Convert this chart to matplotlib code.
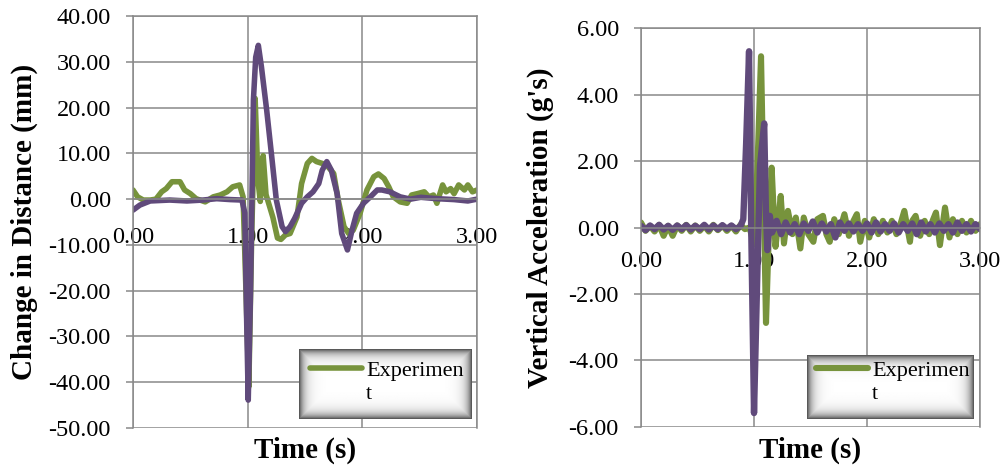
import numpy as np
import matplotlib.pyplot as plt
from matplotlib.ticker import MultipleLocator, FormatStrFormatter
from matplotlib.lines import Line2D

plt.rcParams['font.family'] = ['Liberation Serif', 'DejaVu Serif']

green = '#77933C'
purple = '#604A7B'
grid_c = '#898989'

# left panel: change in distance (mm)
dist_exp_t = [0.00, 0.04, 0.09, 0.15, 0.20, 0.25, 0.29, 0.34, 0.38, 0.41, 0.45, 0.50, 0.55, 0.63,
              0.70, 0.76, 0.82, 0.87, 0.93, 0.96, 0.985, 1.01, 1.035, 1.065, 1.09, 1.11, 1.135, 1.16,
              1.19, 1.22, 1.26, 1.29, 1.33, 1.37, 1.43, 1.47, 1.52, 1.56, 1.60, 1.65, 1.69, 1.75,
              1.79, 1.84, 1.88, 1.92, 1.98, 2.04, 2.10, 2.14, 2.19, 2.23, 2.27, 2.33, 2.39, 2.43,
              2.48, 2.54, 2.58, 2.62, 2.65, 2.70, 2.73, 2.77, 2.80, 2.84, 2.89, 2.92, 2.96, 3.00]
dist_exp_v = [2.0, 0.5, -0.2, -0.2, 0.0, 1.6, 2.3, 3.8, 3.8, 3.8, 2.0, 1.2, 0.1, -0.6,
              0.5, 0.9, 1.6, 2.7, 3.1, 0.5, -20, -41, -8, 22, 4, -0.5, 9.5, 1.0,
              -1.5, -4, -8.5, -8.8, -7.8, -7.5, -3.9, 3.4, 7.8, 8.9, 8.2, 7.8, 7.4, 5.6,
              -0.2, -6.0, -7.5, -6.8, -3.1, 2.0, 4.9, 5.5, 4.5, 2.7, 0.5, -0.6, -0.9, 0.9,
              1.2, 1.6, 0.5, 0.9, -0.9, 3.1, 1.6, 2.3, 1.2, 3.1, 2.0, 3.1, 1.6, 2.0]

dist_sim_t = [0.00, 0.06, 0.15, 0.32, 0.47, 0.61, 0.73, 0.85, 0.95, 0.975, 0.99, 1.005, 1.025,
              1.05, 1.07, 1.093, 1.12, 1.166, 1.21, 1.25, 1.30, 1.33, 1.37, 1.41, 1.47, 1.52,
              1.57, 1.62, 1.65, 1.69, 1.73, 1.78, 1.82, 1.87, 1.91, 1.95, 2.01, 2.07, 2.13,
              2.17, 2.24, 2.33, 2.42, 2.51, 2.65, 2.80, 2.92, 3.00]
dist_sim_v = [-2.4, -1.3, -0.4, -0.2, -0.4, -0.2, 0.1, -0.1, -0.2, -3, -25, -43.9, -20,
              21.6, 31, 33.6, 28.9, 19.4, 9.2, -0.2, -6.0, -7.1, -6.0, -4.2, -0.9, 0.5,
              1.6, 3.4, 6.3, 8.2, 6.3, 1.2, -7.5, -11.1, -6.8, -3.1, -0.9, 0.5, 2.0,
              2.0, 1.6, 0.5, 0.0, 0.4, 0.1, -0.1, -0.4, 0.0]

# right panel: vertical acceleration (g's)
acc_exp_t = [0.00, 0.04, 0.08, 0.12, 0.16, 0.20, 0.24, 0.28, 0.32, 0.36, 0.40, 0.44, 0.48, 0.52,
             0.56, 0.60, 0.64, 0.68, 0.72, 0.76, 0.80, 0.84, 0.88, 0.92, 0.96, 1.00, 1.03, 1.062,
             1.085, 1.106, 1.13, 1.156, 1.175, 1.19, 1.215, 1.236, 1.265, 1.30, 1.34, 1.37, 1.41,
             1.44, 1.48, 1.525, 1.56, 1.61, 1.64, 1.67, 1.71, 1.75, 1.80, 1.84, 1.88, 1.91, 1.94,
             1.98, 2.02, 2.06, 2.10, 2.14, 2.18, 2.22, 2.26, 2.30, 2.33, 2.38, 2.40, 2.43, 2.47,
             2.51, 2.55, 2.58, 2.61, 2.645, 2.69, 2.73, 2.76, 2.80, 2.84, 2.88, 2.92, 2.96, 3.00]
acc_exp_v = [0.15, -0.1, 0.05, -0.12, 0.08, -0.25, 0.05, -0.25, 0.06, -0.1, 0.08, -0.12, 0.06, -0.1,
             0.05, -0.12, 0.08, -0.08, 0.06, -0.1, 0.05, -0.12, 0.08, -0.05, 0.0, -0.5, 1.8, 5.15,
             1.0, -2.87, -0.3, 1.8, 0.4, -0.58, 0.2, 0.95, -0.48, 0.5, -0.2, 0.3, -0.63,
             0.3, -0.2, -0.43, 0.25, 0.35, -0.2, -0.43, 0.25, -0.2, 0.4, -0.25, 0.2, 0.4, -0.43,
             0.2, -0.3, 0.25, -0.2, 0.2, -0.15, 0.2, -0.2, 0.15, 0.5, -0.43, 0.2, 0.35, -0.25,
             0.2, -0.2, 0.2, 0.45, -0.53, 0.6, -0.3, 0.25, -0.2, 0.2, -0.15, 0.2, -0.1, 0.1]

acc_sim_t = [0.00, 0.04, 0.08, 0.12, 0.16, 0.20, 0.24, 0.28, 0.32, 0.36, 0.40, 0.44, 0.48, 0.52,
             0.56, 0.60, 0.64, 0.68, 0.72, 0.76, 0.80, 0.84, 0.88, 0.905, 0.93, 0.956, 0.975, 1.00,
             1.025, 1.053, 1.09, 1.105, 1.118, 1.14, 1.16, 1.20, 1.24, 1.28, 1.32, 1.36, 1.40,
             1.44, 1.48, 1.52, 1.56, 1.60, 1.64, 1.68, 1.72, 1.76, 1.80, 1.84, 1.88, 1.92, 1.96,
             2.00, 2.04, 2.08, 2.12, 2.16, 2.20, 2.24, 2.28, 2.32, 2.36, 2.40, 2.44, 2.48, 2.52,
             2.56, 2.60, 2.64, 2.68, 2.72, 2.76, 2.80, 2.84, 2.88, 2.92, 2.96, 3.00]
acc_sim_v = [0.05, -0.08, 0.06, -0.05, 0.08, -0.06, 0.05, -0.07, 0.06, -0.05, 0.07, -0.06, 0.05, -0.05,
             0.08, -0.06, 0.06, -0.05, 0.07, -0.04, 0.06, -0.05, 0.04, 0.25, 2.5, 5.3, 0.0, -5.58,
             -2.0, 1.85, 3.13, 0.5, -0.68, 0.35, -0.15, 0.2, -0.2, 0.15, -0.15, 0.1, -0.2,
             0.12, -0.1, 0.18, -0.15, 0.12, -0.12, 0.1, -0.3, 0.15, -0.1, 0.12, -0.12, 0.1, -0.1,
             0.12, -0.15, 0.15, -0.12, 0.1, -0.1, 0.12, -0.15, 0.1, -0.1, 0.12, -0.2, 0.15, -0.12,
             0.1, -0.15, 0.12, -0.1, 0.1, -0.15, 0.15, -0.1, 0.1, -0.12, 0.1, -0.05]

fig = plt.figure(figsize=(10.03, 4.66), dpi=100)
ax1 = fig.add_axes([0.1326, 0.0815, 0.343, 0.8841])
ax2 = fig.add_axes([0.6391, 0.0837, 0.338, 0.8562])


def style(ax, ylim, ystep, ylabel, xpad, ylab_x):
    ax.set_xlim(0, 3)
    ax.set_ylim(*ylim)
    ax.xaxis.set_major_locator(MultipleLocator(1))
    ax.yaxis.set_major_locator(MultipleLocator(ystep))
    ax.xaxis.set_major_formatter(FormatStrFormatter('%.2f'))
    ax.yaxis.set_major_formatter(FormatStrFormatter('%.2f'))
    ax.grid(True, color=grid_c, lw=1.1)
    ax.set_axisbelow(True)
    for s in ['left', 'right', 'top', 'bottom']:
        ax.spines[s].set_color(grid_c)
        ax.spines[s].set_linewidth(1.1)
    ax.spines['bottom'].set_position(('data', 0))
    ax.tick_params(axis='y', length=5, width=1.1, color=grid_c, labelsize=17.5, pad=11)
    ax.tick_params(axis='x', length=0, labelsize=17.5, pad=xpad)
    ax.set_ylabel(ylabel, fontsize=21, fontweight='bold')
    ax.yaxis.label.set_va('center')
    ax.yaxis.set_label_coords(ylab_x, 0.5)
    ax.set_xlabel('Time (s)', fontsize=21, fontweight='bold')
    ax.xaxis.label.set_va('center')


style(ax1, (-50, 40), 10, 'Change in Distance (mm)', 20, -0.317)
ax1.xaxis.set_label_coords(0.5, -0.053)
style(ax2, (-6, 6), 2, "Vertical Acceleration (g's)", 17, -0.298)
ax2.xaxis.set_label_coords(0.5, -0.058)

kw = dict(solid_joinstyle='round', solid_capstyle='round')
g1, = ax1.plot(dist_exp_t, dist_exp_v, color=green, lw=4.0, **kw)
ax1.plot(dist_sim_t, dist_sim_v, color=purple, lw=4.0, **kw)
g2, = ax2.plot(acc_exp_t, acc_exp_v, color=green, lw=4.4, **kw)
ax2.plot(acc_sim_t, acc_sim_v, color=purple, lw=4.6, **kw)

# legend boxes with a shaded (inner shadow) frame
def shade_box(rect):
    bax = fig.add_axes(rect)
    w = int(rect[2] * 1003)
    h = int(rect[3] * 466)
    yy, xx = np.mgrid[0:h, 0:w]
    d = np.minimum(np.minimum(xx, w - 1 - xx), np.minimum(yy, h - 1 - yy))
    img = 1 - 0.65 * np.exp(-d / 5.0)
    bax.imshow(img, cmap='gray', vmin=0, vmax=1, aspect='auto', interpolation='bilinear')
    bax.axis('off')


shade_box([0.2981, 0.1009, 0.1715, 0.1502])
shade_box([0.8046, 0.1009, 0.1665, 0.1373])

blank = Line2D([], [], alpha=0)
for h, x0 in [(g1, 310 / 1003), (g2, 816 / 1003)]:
    fig.legend([h, blank], ['Experimen', 't'], loc='upper left', bbox_to_anchor=(x0, 0.2275),
               frameon=False, fontsize=16, borderpad=0, borderaxespad=0,
               handlelength=2.35, handletextpad=0.18, labelspacing=0.12)

fig.savefig('out.png', dpi=100)
